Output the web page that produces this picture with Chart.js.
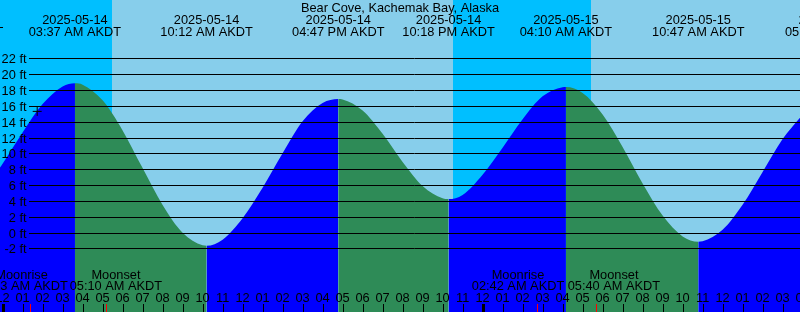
<!DOCTYPE html>
<html>
<head>
<meta charset="utf-8">
<script src="https://cdn.jsdelivr.net/npm/chart.js@4/dist/chart.umd.min.js"></script>
<style>
html, body { margin: 0; padding: 0; overflow: hidden; background: #87ceeb; }
canvas { display: block; }
</style>
</head>
<body>
<canvas id="tide" width="800" height="312"></canvas>
<script>
const title = 'Bear Cove, Kachemak Bay, Alaska'

// times are hours after 2025-05-14 00:00 AKDT
const curveHours = [-0.13, 0, 1, 2, 3, 3.617, 4, 5, 6, 7, 8, 9, 10, 10.2,
  11, 12, 13, 14, 15, 16, 16.783, 17, 18, 19, 20, 21, 22, 22.3,
  23, 24, 25, 26, 27, 28, 28.167, 29, 30, 31, 32, 33, 34, 34.783,
  35, 36, 37, 38, 39, 40]
const curveFeet = [8.2, 8.69, 12.64, 16.22, 18.45, 18.85, 18.68, 16.7, 12.9, 8.14, 3.48, -0.03, -1.62, -1.67,
  -0.9, 1.8, 5.65, 10.0, 14.05, 16.35, 16.86, 16.81, 15.4, 12.46, 8.92, 5.88, 4.32, 4.23,
  4.75, 7.3, 10.7, 14.3, 17.2, 18.35, 18.38, 17.63, 14.91, 10.8, 6.2, 2.14, -0.49, -1.16,
  -1.11, 0.34, 3.5, 7.64, 11.8, 14.9]

const tideHours = [-2.28, 3.617, 10.2, 16.783, 22.3, 28.167, 34.783, 41.43]
const tideDates = ['2025-05-13', '2025-05-14', '2025-05-14', '2025-05-14', '2025-05-14', '2025-05-15', '2025-05-15', '2025-05-15']
const tideClock = ['09:43 PM AKDT', '03:37 AM AKDT', '10:12 AM AKDT', '04:47 PM AKDT', '10:18 PM AKDT', '04:10 AM AKDT', '10:47 AM AKDT', '05:26 PM AKDT']

const moonHours = [1.383, 5.167, 26.7, 29.667]
const moonNames = ['Moonrise', 'Moonset', 'Moonrise', 'Moonset']
const moonClock = ['01:23 AM AKDT', '05:10 AM AKDT', '02:42 AM AKDT', '05:40 AM AKDT']

const nightFrom = [-0.13, 22.5]
const nightTo = [5.455, 29.42]

const nowHour = [1.73]
const nowFeet = [15.3]

const depthTicks = [-2, 0, 2, 4, 6, 8, 10, 12, 14, 16, 18, 20, 22]
const hourTicks = []
for (let h = 0; h <= 40; h++) hourTicks.push(h)
const hourLabels = ['12', '01', '02', '03', '04', '05', '06', '07', '08', '09', '10', '11',
  '12', '01', '02', '03', '04', '05', '06', '07', '08', '09', '10', '11',
  '12', '01', '02', '03', '04', '05', '06', '07', '08', '09', '10', '11',
  '12', '01', '02', '03', '04']

const DAY = '#87ceeb', NIGHT = '#00bfff', RISE = '#0000ff', FALL = '#2e8b57'
const FONT = '12.8px "Liberation Sans", Arial, sans-serif'
// label nudges (px) for the moon texts, as in the picture
const moonShift = [-8.7, 10, -18.6, 18]

const sky = {
  id: 'sky',
  beforeDraw(chart) {
    const { ctx, chartArea: a, scales: { x } } = chart
    ctx.save()
    ctx.fillStyle = DAY
    ctx.fillRect(a.left, a.top, a.right - a.left, a.bottom - a.top)
    ctx.fillStyle = NIGHT
    for (let i = 0; i < nightFrom.length; i++) {
      const x0 = Math.max(a.left, x.getPixelForValue(nightFrom[i]))
      const x1 = Math.min(a.right, x.getPixelForValue(nightTo[i]))
      ctx.fillRect(Math.round(x0), a.top, Math.round(x1) - Math.round(x0), a.bottom - a.top)
    }
    ctx.restore()
  }
}

const marks = {
  id: 'marks',
  afterDatasetsDraw(chart) {
    const { ctx, chartArea: a, scales: { x, y } } = chart
    ctx.save()
    ctx.strokeStyle = '#000'
    ctx.lineWidth = 1
    ctx.font = FONT
    ctx.fillStyle = '#000'
    // depth lines
    depthTicks.forEach(v => {
      const py = Math.round(y.getPixelForValue(v)) + 0.5
      ctx.beginPath()
      ctx.moveTo(29, py)
      ctx.lineTo(a.right, py)
      ctx.stroke()
      ctx.textAlign = 'right'
      ctx.textBaseline = 'middle'
      ctx.fillText(v + ' ft', 26.5, py + 0.5)
    })
    // title and tide events
    ctx.textAlign = 'center'
    ctx.textBaseline = 'alphabetic'
    ctx.fillText(title, (a.left + a.right) / 2, 12)
    tideHours.forEach((h, i) => {
      const px = x.getPixelForValue(h)
      ctx.fillText(tideDates[i], px, 24)
      ctx.fillText(tideClock[i], px, 36)
    })
    // moon events
    moonHours.forEach((h, i) => {
      const px = x.getPixelForValue(h) + moonShift[i]
      ctx.fillText(moonNames[i], px, 278.5)
      ctx.fillText(moonClock[i], px, 290)
    })
    // hour ticks
    hourTicks.forEach((h, i) => {
      const px = x.getPixelForValue(h)
      ctx.fillStyle = '#000'
      ctx.fillText(hourLabels[i], px, 301.5)
      if (h % 24 === 0) ctx.fillRect(Math.round(px) - 1, 304, 3, 8)
      else ctx.fillRect(Math.round(px), 304, 1, 8)
    })
    ctx.fillStyle = '#ff0000'
    moonHours.forEach(h => {
      ctx.fillRect(Math.round(x.getPixelForValue(h)), 304, 1, 8)
    })
    ctx.restore()
  }
}

const tide = new Chart(document.getElementById('tide'), {
  type: 'line',
  data: {
    datasets: [
      {
        label: 'now',
        data: nowHour.map((h, i) => ({ x: h, y: nowFeet[i] })),
        showLine: false,
        pointStyle: 'cross',
        pointRadius: 4.5,
        borderColor: '#000',
        borderWidth: 1,
        order: 0
      },
      {
        label: 'tide',
        data: curveHours.map((h, i) => ({ x: h, y: curveFeet[i] })),
        fill: 'start',
        cubicInterpolationMode: 'monotone',
        pointRadius: 0,
        borderWidth: 0,
        borderColor: 'rgba(0,0,0,0)',
        backgroundColor: RISE,
        segment: {
          backgroundColor: c => c.p1.parsed.y >= c.p0.parsed.y ? RISE : FALL
        },
        order: 1
      }
    ]
  },
  options: {
    responsive: false,
    devicePixelRatio: 1,
    animation: false,
    layout: { padding: 0, autoPadding: false },
    plugins: { legend: { display: false }, tooltip: { enabled: false } },
    events: [],
    scales: {
      x: { type: 'linear', min: -0.13, max: 39.87, display: false },
      y: { type: 'linear', min: -10.04, max: 29.37, display: false }
    }
  },
  plugins: [sky, marks]
})
</script>
</body>
</html>
